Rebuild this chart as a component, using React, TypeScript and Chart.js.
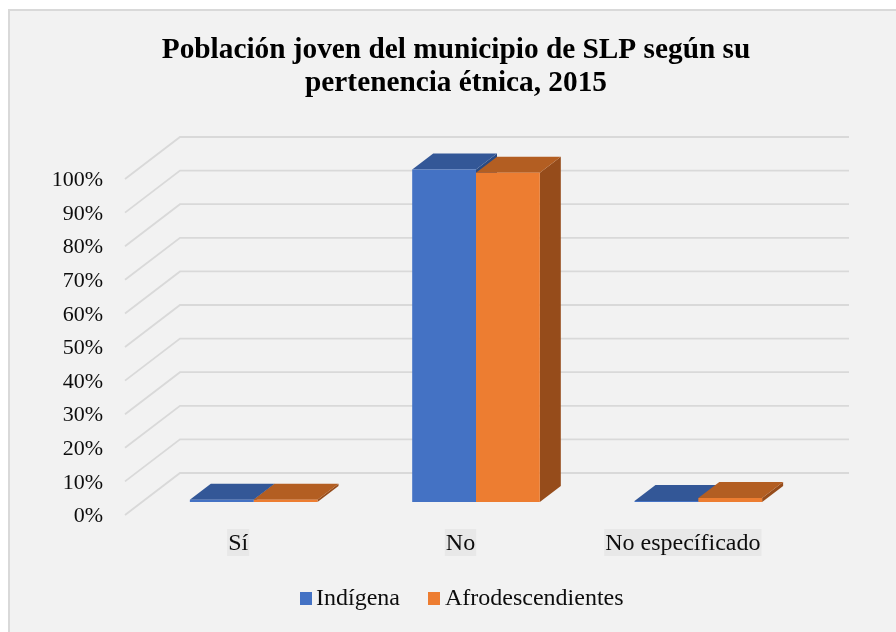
import React, { useEffect, useRef } from "react";
import { Chart, registerables } from "chart.js";

Chart.register(...registerables);

const categories = ["Sí", "No", "No específicado"];
const indigena = [0.7, 99, 0.3];
const afro = [0.7, 98, 1.2];
const FONT = "'Liberation Serif', serif";

const faceColors = [
  { front: "#4472C4", top: "#335797", side: "#2A4A82" },
  { front: "#ED7D31", top: "#B35E22", side: "#964C1B" },
];

const threeD = {
  id: "threeD",
  afterLayout(chart: any) {
    const t = chart.titleBlock;
    if (t) { t.left += 8; t.right += 8; }
  },
  beforeDraw(chart: any) {
    const { ctx, width, height, scales } = chart;
    ctx.save();
    ctx.fillStyle = "#ffffff";
    ctx.fillRect(0, 0, width, height);
    ctx.fillStyle = "#F2F2F2";
    ctx.fillRect(9, 10, width - 9, height - 10);
    ctx.strokeStyle = "#D9D9D9";
    ctx.lineWidth = 2;
    ctx.beginPath();
    ctx.moveTo(9, height);
    ctx.lineTo(9, 10);
    ctx.lineTo(width, 10);
    ctx.stroke();
    ctx.font = `24px ${FONT}`;
    ctx.fillStyle = "#E8E8E8";
    categories.forEach((c, i) => {
      const w = ctx.measureText(c).width;
      ctx.fillRect(scales.x.getPixelForValue(i) - w / 2 - 1, 529, w + 2, 27);
    });
    ctx.restore();
  },
  beforeDatasetsDraw(chart: any) {
    const { ctx, chartArea, scales } = chart;
    const wx = 55, wy = 42;
    ctx.save();
    ctx.strokeStyle = "#D9D9D9";
    ctx.lineWidth = 1.8;
    for (const tick of scales.y.ticks) {
      const y = scales.y.getPixelForValue(tick.value);
      ctx.beginPath();
      ctx.moveTo(chartArea.left - 2, y);
      ctx.lineTo(chartArea.left + wx - 2, y - wy);
      ctx.lineTo(chartArea.right + wx, y - wy);
      ctx.stroke();
    }
    const ox = 15.5, oy = -13, dx = 21, dy = -16;
    chart.data.datasets.forEach((_: any, di: number) => {
      chart.getDatasetMeta(di).data.forEach((bar: any) => {
        const { x, y, base, width: w } = bar.getProps(["x", "y", "base", "width"], true);
        const l = x - w / 2 + ox, r = x + w / 2 + ox, t = y + oy, b = base + oy;
        const c = faceColors[di];
        ctx.fillStyle = c.side;
        ctx.beginPath();
        ctx.moveTo(r, t); ctx.lineTo(r + dx, t + dy); ctx.lineTo(r + dx, b + dy); ctx.lineTo(r, b);
        ctx.closePath(); ctx.fill();
        ctx.fillStyle = c.top;
        ctx.beginPath();
        ctx.moveTo(l, t); ctx.lineTo(l + dx, t + dy); ctx.lineTo(r + dx, t + dy); ctx.lineTo(r, t);
        ctx.closePath(); ctx.fill();
      });
    });
    ctx.restore();
    ctx.save();
    ctx.translate(ox, oy);
  },
  afterDatasetsDraw(chart: any) {
    chart.ctx.restore();
  },
  afterDraw(chart: any) {
    const { ctx } = chart;
    const boxX = [300, 428], textX = [316, 445];
    ctx.save();
    ctx.font = `24px ${FONT}`;
    ctx.textBaseline = "middle";
    chart.data.datasets.forEach((d: any, i: number) => {
      ctx.fillStyle = d.backgroundColor;
      ctx.fillRect(boxX[i], 592, 12, 13);
      ctx.fillStyle = "#0D0D0D";
      ctx.fillText(d.label, textX[i], 599);
    });
    ctx.restore();
  },
};

export default function App() {
  const ref = useRef<HTMLCanvasElement>(null);
  useEffect(() => {
    const chart = new Chart(ref.current!, {
      type: "bar",
      data: {
        labels: categories,
        datasets: [
          { label: "Indígena", data: indigena, backgroundColor: faceColors[0].front, clip: false, categoryPercentage: 0.574, barPercentage: 1 },
          { label: "Afrodescendientes", data: afro, backgroundColor: faceColors[1].front, clip: false, categoryPercentage: 0.574, barPercentage: 1 },
        ] as any,
      },
      plugins: [threeD],
      options: {
        responsive: false,
        animation: false,
        layout: { padding: 0 },
        plugins: {
          legend: { display: false },
          tooltip: { enabled: false },
          title: {
            display: true,
            text: ["Población joven del municipio de SLP según su", "pertenencia étnica, 2015"],
            color: "#000000",
            font: { family: FONT, size: 29.3, weight: "bold", lineHeight: 1.13 },
            padding: { top: 33.5, bottom: 79.3 },
          },
        },
        scales: {
          x: {
            grid: { display: false, drawTicks: false },
            border: { display: false },
            ticks: { color: "#0D0D0D", font: { family: FONT, size: 24 }, padding: 14, maxRotation: 0, autoSkip: false },
            afterFit(s: any) { s.height = 117; },
          },
          y: {
            min: 0,
            max: 100,
            grid: { display: false, drawTicks: false },
            border: { display: false },
            ticks: {
              stepSize: 10,
              color: "#0D0D0D",
              font: { family: FONT, size: 22 },
              padding: 24,
              labelOffset: 1.5,
              callback: (v: any) => `${v}%`,
            },
            afterFit(s: any) { s.width = 127; },
          },
          y2: {
            position: "right",
            display: true,
            min: 0,
            max: 100,
            grid: { display: false, drawTicks: false },
            border: { display: false },
            ticks: { display: false },
            afterFit(s: any) { s.width = 102; },
          },
        },
      } as any,
    });
    return () => chart.destroy();
  }, []);
  return (
    <div style={{ position: "fixed", left: 0, top: 0, width: 896, height: 632, overflow: "hidden" }}>
      <canvas ref={ref} width={896} height={632} style={{ display: "block" }} />
    </div>
  );
}
